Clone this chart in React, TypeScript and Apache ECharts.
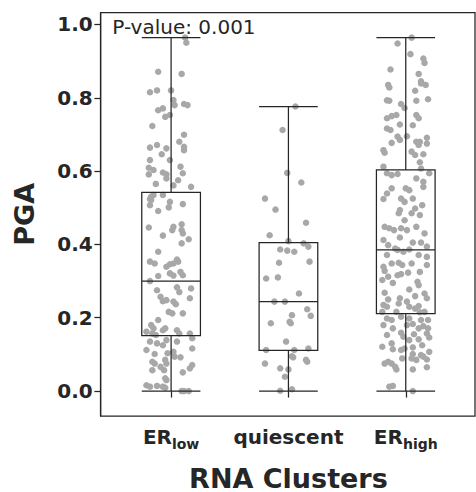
import { useEffect, useRef } from "react";
import * as echarts from "echarts";

// Cluster names and their axis label markup (ER with subscripts)
const categories = ["ER_low", "quiescent", "ER_high"];
const categoryLabels = ["{b|ER}{s|low}", "{q|quiescent}", "{b|ER}{s|high}"];
const yTicks = [0, 0.2, 0.4, 0.6, 0.8, 1.0];
const pValueText = "P-value: 0.001";

// Box summaries per cluster: [min, Q1, median, Q3, max]
const boxStats = [
  [0, 0.151, 0.3, 0.542, 0.964],
  [0, 0.111, 0.244, 0.405, 0.776],
  [0, 0.211, 0.385, 0.603, 0.964],
];

// Individual samples per cluster: [jitter (category units), PGA]
const erLowPoints = [
  [0.12, 0.964], [0.13, 0.95], [-0.11, 0.871], [0.09, 0.865], [-0.18, 0.815], [-0.12, 0.82], [0.0, 0.82],
  [0.02, 0.794], [0.03, 0.78], [0.11, 0.783], [0.14, 0.78], [-0.11, 0.766], [-0.07, 0.771], [-0.05, 0.748],
  [-0.01, 0.753], [-0.16, 0.723], [0.11, 0.699], [0.07, 0.68], [-0.18, 0.664], [-0.12, 0.671], [-0.04, 0.662],
  [0.11, 0.666], [0.11, 0.657], [-0.08, 0.646], [-0.01, 0.63], [-0.18, 0.63], [-0.19, 0.609], [-0.15, 0.603],
  [0.08, 0.612], [-0.19, 0.591], [-0.07, 0.596], [-0.04, 0.591], [0.1, 0.594], [-0.04, 0.58], [0.06, 0.575],
  [-0.13, 0.565], [0.17, 0.557], [0.02, 0.561], [-0.17, 0.53], [-0.15, 0.535], [-0.18, 0.524], [-0.17, 0.521],
  [-0.07, 0.535], [-0.01, 0.516], [0.1, 0.51], [-0.18, 0.507], [-0.11, 0.491], [-0.02, 0.501],
  [-0.19, 0.446], [-0.07, 0.424], [0.01, 0.439], [0.09, 0.455], [0.09, 0.439], [0.1, 0.43], [0.15, 0.414],
  [0.02, 0.448], [-0.11, 0.38], [0.09, 0.403], [-0.18, 0.353], [-0.14, 0.348], [-0.04, 0.339], [-0.01, 0.346],
  [0.05, 0.359], [0.06, 0.353], [0.02, 0.348], [-0.18, 0.3], [-0.11, 0.314], [-0.01, 0.321], [0.02, 0.315],
  [0.08, 0.325], [0.1, 0.316], [-0.12, 0.275], [0.05, 0.283], [0.07, 0.27], [0.17, 0.28], [-0.09, 0.257],
  [-0.07, 0.245], [-0.04, 0.248], [0.02, 0.244], [0.04, 0.237], [0.16, 0.253], [-0.02, 0.216], [0.01, 0.212],
  [0.1, 0.212], [-0.11, 0.194], [-0.17, 0.18], [-0.15, 0.171], [-0.07, 0.166], [-0.05, 0.171], [-0.21, 0.162],
  [-0.16, 0.157], [0.05, 0.166], [0.07, 0.157],
  [-0.13, 0.153], [-0.04, 0.139], [0.05, 0.135], [0.16, 0.157], [0.18, 0.144], [-0.18, 0.135], [-0.12, 0.13],
  [-0.07, 0.125], [-0.21, 0.112], [0.18, 0.116], [-0.14, 0.101], [-0.03, 0.103], [0.02, 0.107], [0.03, 0.094],
  [0.08, 0.092], [-0.16, 0.08], [-0.14, 0.075], [-0.05, 0.085], [-0.04, 0.075], [0.18, 0.071], [0.16, 0.062],
  [-0.16, 0.057], [-0.09, 0.066], [-0.06, 0.057], [0.1, 0.051], [-0.05, 0.035], [-0.04, 0.03], [-0.21, 0.016],
  [-0.18, 0.012], [-0.12, 0.014], [-0.07, 0.012], [-0.05, 0.009], [0.09, 0.0], [0.15, 0.0], [0.11, 0.0],
];

const quiescentPoints = [
  [0.06, 0.776], [-0.05, 0.712], [-0.01, 0.595], [0.11, 0.569], [-0.2, 0.525], [-0.11, 0.495], [0.15, 0.459],
  [-0.16, 0.425], [0.0, 0.409], [-0.07, 0.386], [-0.01, 0.383], [0.05, 0.38], [0.13, 0.403], [0.17, 0.394],
  [0.18, 0.353], [-0.08, 0.35], [-0.19, 0.307], [-0.09, 0.31], [0.09, 0.266], [-0.12, 0.244], [-0.03, 0.244],
  [0.03, 0.207], [0.16, 0.223], [0.19, 0.205], [-0.15, 0.185], [0.01, 0.189], [0.02, 0.185], [-0.02, 0.135],
  [-0.19, 0.112], [0.17, 0.116], [0.05, 0.112], [0.03, 0.095], [0.04, 0.092], [0.15, 0.085], [0.16, 0.08],
  [-0.2, 0.075], [-0.07, 0.062], [0.0, 0.059], [-0.03, 0.039], [-0.07, 0.001], [0.03, 0.005],
];

const erHighPoints = [
  [0.05, 0.964], [-0.07, 0.948], [0.04, 0.919], [0.15, 0.907], [0.16, 0.895], [-0.13, 0.877], [0.11, 0.865],
  [0.13, 0.845], [0.13, 0.839], [0.17, 0.835], [-0.15, 0.835], [-0.14, 0.828], [0.08, 0.819], [0.09, 0.792],
  [0.19, 0.796], [-0.16, 0.793], [-0.14, 0.792], [-0.04, 0.783], [-0.01, 0.772], [-0.16, 0.744], [-0.12, 0.75],
  [-0.08, 0.753], [0.09, 0.753], [0.11, 0.744], [0.06, 0.725], [-0.16, 0.716], [-0.13, 0.712], [-0.05, 0.727],
  [-0.07, 0.694], [-0.05, 0.685], [0.01, 0.695], [0.18, 0.691], [0.18, 0.675], [-0.12, 0.677], [0.09, 0.68],
  [0.11, 0.671], [0.12, 0.68], [-0.19, 0.657], [-0.18, 0.65], [0.05, 0.653], [0.08, 0.644], [0.15, 0.646],
  [0.12, 0.624], [-0.19, 0.612], [0.13, 0.607], [0.2, 0.594],
  [-0.16, 0.594], [-0.12, 0.589], [-0.07, 0.592], [0.09, 0.58], [0.15, 0.571], [0.15, 0.557], [-0.16, 0.539],
  [-0.12, 0.553], [0.0, 0.553], [0.03, 0.548], [-0.19, 0.524], [-0.04, 0.525], [-0.01, 0.516], [0.06, 0.525],
  [0.14, 0.507], [0.08, 0.498], [-0.05, 0.494], [-0.06, 0.485], [0.05, 0.485], [0.12, 0.48], [-0.01, 0.466],
  [-0.18, 0.448], [-0.14, 0.444], [-0.1, 0.439], [-0.04, 0.444], [0.01, 0.439], [0.09, 0.448], [0.16, 0.43],
  [-0.19, 0.412], [-0.15, 0.398], [-0.05, 0.419], [0.06, 0.405], [0.13, 0.405], [0.18, 0.394], [-0.09, 0.389],
  [-0.07, 0.385], [0.03, 0.386], [-0.16, 0.371], [-0.02, 0.38], [0.11, 0.371], [0.18, 0.366], [-0.12, 0.348],
  [-0.06, 0.35], [-0.03, 0.344], [-0.19, 0.339], [-0.18, 0.328], [0.05, 0.348], [0.18, 0.344], [0.12, 0.325],
  [-0.15, 0.312], [-0.07, 0.316], [-0.04, 0.319], [0.02, 0.323], [-0.2, 0.303], [-0.11, 0.295], [0.1, 0.298],
  [0.11, 0.289], [-0.18, 0.268], [0.03, 0.277], [0.16, 0.266], [-0.15, 0.25], [-0.05, 0.253], [0.08, 0.259],
  [0.18, 0.253], [-0.19, 0.235], [-0.16, 0.23], [-0.06, 0.239], [0.01, 0.244], [0.03, 0.23], [0.11, 0.232],
  [-0.2, 0.216], [-0.08, 0.216], [0.08, 0.225], [0.12, 0.215], [0.16, 0.216],
  [-0.16, 0.198], [-0.12, 0.194], [-0.04, 0.203], [0.03, 0.198], [0.13, 0.194], [0.19, 0.194], [-0.19, 0.18],
  [-0.11, 0.171], [0.01, 0.18], [0.06, 0.183], [0.11, 0.171], [0.15, 0.177], [0.19, 0.171], [-0.16, 0.153],
  [-0.04, 0.159], [-0.02, 0.148], [0.07, 0.155], [0.18, 0.157], [0.2, 0.146], [0.03, 0.139], [0.11, 0.141],
  [-0.12, 0.13], [-0.2, 0.121], [0.14, 0.125], [0.06, 0.119], [-0.11, 0.114], [-0.04, 0.112], [-0.01, 0.116],
  [0.2, 0.107], [0.13, 0.098], [0.15, 0.094], [0.06, 0.101], [0.05, 0.089], [0.09, 0.085], [-0.18, 0.075],
  [-0.15, 0.08], [-0.12, 0.075], [-0.03, 0.089], [0.18, 0.086], [-0.09, 0.066], [-0.08, 0.059], [0.06, 0.059],
  [0.18, 0.065], [-0.14, 0.012], [-0.11, 0.014], [0.06, 0.0],
];

const pointGroups = [erLowPoints, quiescentPoints, erHighPoints];

const INK = "#262626";
const FONT = "DejaVu Sans";
const Y_MIN = -0.068;
const Y_MAX = 1.032;

export default function App() {
  const ref = useRef<HTMLDivElement>(null);

  useEffect(() => {
    document.body.style.margin = "0";
    if (!ref.current) return;
    const chart = echarts.init(ref.current, null, { renderer: "svg" });

    // layout of the plotting frame
    const frameLeft = 100.7;
    const frameRight = 475;
    const frameTop = 12.7;
    const frameBottom = 416;
    const unit = 117.33; // pixels per category step
    const xMin = -0.6;
    const xMax = xMin + (frameRight - frameLeft) / unit;
    const bandLeft = frameLeft + (-0.5 - xMin) * unit;
    const bandRight = bandLeft + categories.length * unit;

    const scatterData: number[][] = [];
    pointGroups.forEach((pts, i) => {
      pts.forEach(([j, v]) => scatterData.push([i + j, v]));
    });

    const richBase = { fontFamily: FONT, fontWeight: "bold", color: INK, verticalAlign: "bottom" };

    chart.setOption({
      animation: false,
      textStyle: { fontFamily: FONT },
      grid: [
        {
          left: frameLeft,
          right: 476 - frameRight,
          top: frameTop,
          bottom: 492 - frameBottom,
          outerBoundsMode: "none",
          containLabel: false,
          show: true,
          backgroundColor: "transparent",
          borderColor: INK,
          borderWidth: 1.25,
        },
        {
          left: bandLeft,
          right: 476 - bandRight,
          top: frameTop,
          bottom: 492 - frameBottom,
          outerBoundsMode: "none",
          containLabel: false,
        },
      ],
      xAxis: [
        { type: "value", gridIndex: 0, min: xMin, max: xMax, show: false },
        {
          type: "category",
          gridIndex: 1,
          data: categories,
          boundaryGap: true,
          axisLine: { show: false },
          axisTick: { show: true, alignWithLabel: true, interval: 0, length: 6.5, lineStyle: { color: INK, width: 1.25 } },
          axisLabel: {
            interval: 0,
            margin: 15,
            formatter: (_v: string, i: number) => categoryLabels[i],
            rich: {
              b: { ...richBase, fontSize: 20, lineHeight: 20, padding: [0, 0, 4, 0] },
              s: { ...richBase, fontSize: 14, lineHeight: 14 },
              q: { ...richBase, fontSize: 20, lineHeight: 20, padding: [0, 0, 4, 0] },
            },
          },
          splitLine: { show: false },
          name: "RNA Clusters",
          nameLocation: "middle",
          nameGap: 52,
          nameTextStyle: { fontFamily: FONT, fontSize: 27, fontWeight: "bold", color: INK, lineHeight: 20 },
        },
      ],
      yAxis: [
        {
          type: "value",
          gridIndex: 0,
          min: Y_MIN,
          max: Y_MAX,
          axisLine: { show: true, onZero: false, lineStyle: { color: INK, width: 1.25 } },
          axisTick: { show: true, length: 6.3, customValues: yTicks, lineStyle: { color: INK, width: 1.25 } },
          axisLabel: {
            customValues: yTicks,
            margin: 8,
            formatter: (v: number) => v.toFixed(1),
            fontFamily: FONT,
            fontSize: 20,
            fontWeight: "bold",
            color: INK,
          },
          splitLine: { show: false },
          name: "PGA",
          nameLocation: "middle",
          nameGap: 63,
          nameRotate: 90,
          nameTextStyle: { fontFamily: FONT, fontSize: 27, fontWeight: "bold", color: INK },
        },
        { type: "value", gridIndex: 1, min: Y_MIN, max: Y_MAX, show: false, axisLine: { onZero: false } },
      ],
      series: [
        {
          type: "scatter",
          xAxisIndex: 0,
          yAxisIndex: 0,
          data: scatterData,
          symbolSize: 6.5,
          itemStyle: { color: "#a8a8a8", opacity: 1 },
          z: 2,
          silent: true,
        },
        {
          type: "boxplot",
          xAxisIndex: 1,
          yAxisIndex: 1,
          data: boxStats,
          boxWidth: [unit * 0.5, unit * 0.5],
          itemStyle: { color: "transparent", borderColor: INK, borderWidth: 1.25 },
          z: 3,
          silent: true,
        },
      ],
      graphic: [
        {
          type: "text",
          left: 112.3,
          top: 17,
          style: { text: pValueText, font: `20px "${FONT}"`, fill: INK },
          z: 10,
        },
      ],
    });

    return () => chart.dispose();
  }, []);

  return <div ref={ref} style={{ width: 476, height: 492 }} />;
}
